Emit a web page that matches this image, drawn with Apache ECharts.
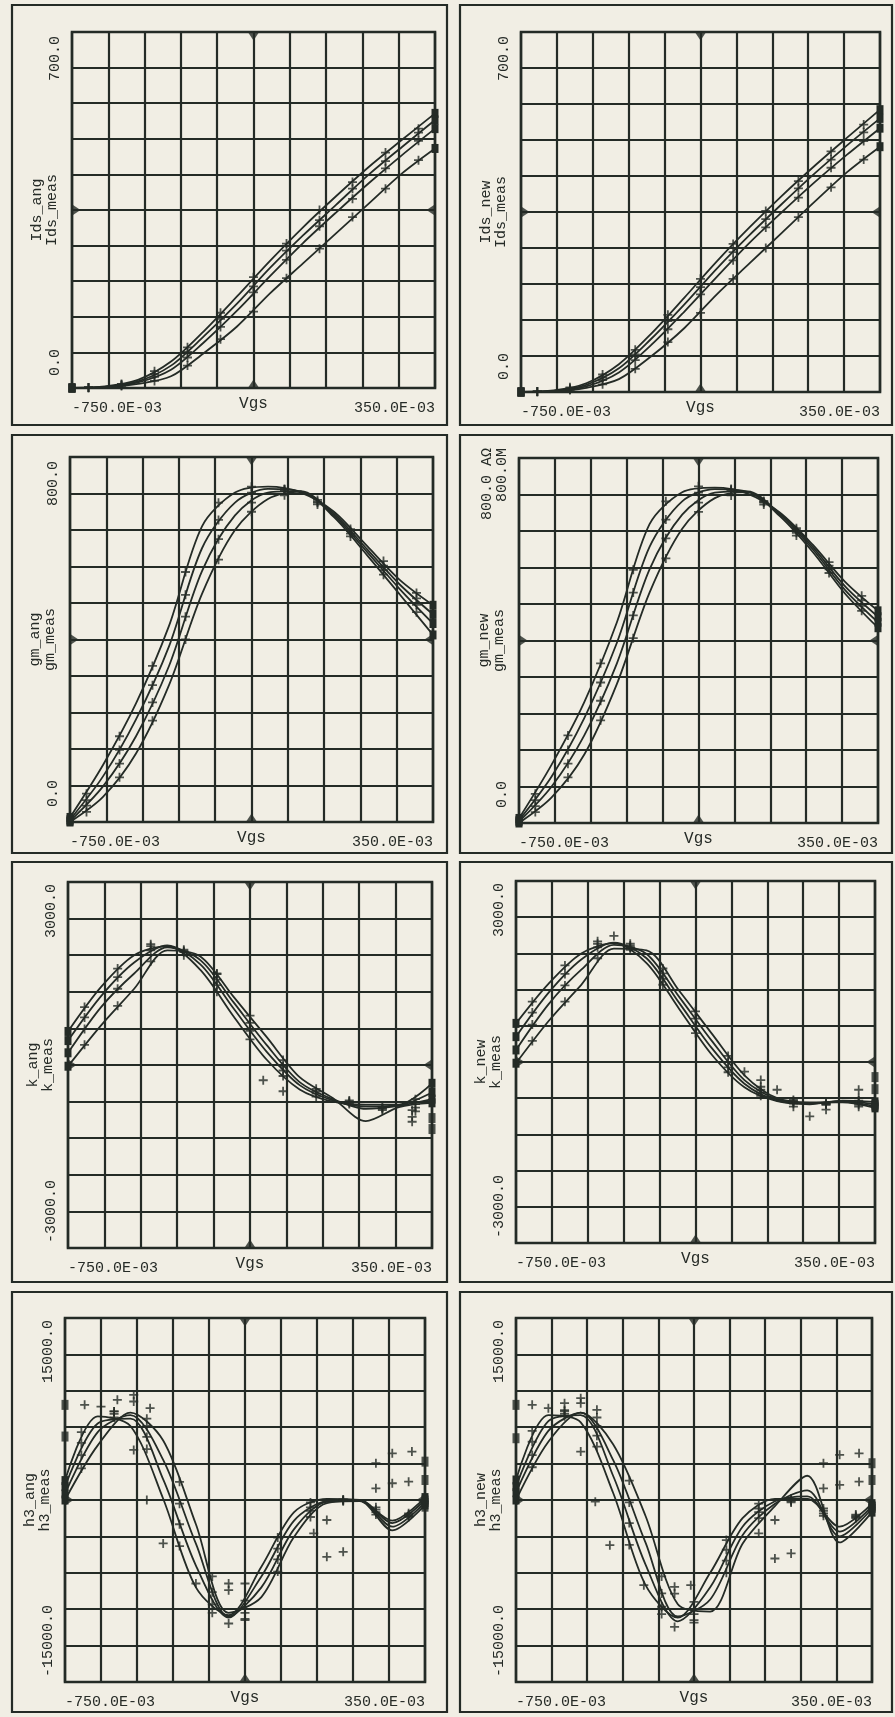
<!DOCTYPE html>
<html>
<head>
<meta charset="utf-8">
<title>Ids, gm, k, h3 vs Vgs</title>
<style>
  html, body { margin: 0; padding: 0; background: #f1eee4; }
  #chart { width: 895px; height: 1717px; }
</style>
</head>
<body>
<div id="chart"></div>
<script src="https://cdn.jsdelivr.net/npm/echarts@6/dist/echarts.min.js"></script>
<script>
// Vgs sweep (V)
var vgsMin = -0.75
var vgsMax = 0.35
var vgsModel = [-0.75, -0.65, -0.55, -0.45, -0.35, -0.25, -0.15, -0.05, 0.05, 0.15, 0.25, 0.35]
var vgsMeas = [-0.70, -0.60, -0.50, -0.40, -0.30, -0.20, -0.10, 0.00, 0.10, 0.20, 0.30]

// y ranges
var idsRange = [0, 700]
var gmRange = [0, 800]
var kRange = [-3000, 3000]
var h3Range = [-15000, 15000]

// Ids, four Vds curves
var idsAngModel = [
  [0, 3, 16, 52, 112, 180, 250, 316, 377, 435, 488, 540],
  [0, 2, 13, 44, 102, 166, 236, 300, 360, 420, 474, 527],
  [0, 2, 11, 36, 90, 152, 220, 285, 345, 403, 458, 510],
  [0, 1, 8, 23, 69, 121, 186, 245, 304, 363, 422, 471]
]
var idsNewModel = [
  [0, 3, 17, 54, 114, 183, 254, 320, 382, 440, 495, 549],
  [0, 2, 14, 46, 104, 170, 240, 305, 366, 425, 480, 532],
  [0, 2, 11, 38, 92, 156, 224, 290, 350, 408, 462, 513],
  [0, 1, 8, 25, 70, 124, 190, 250, 310, 370, 428, 477]
]
var idsAngMeas = [
  [1, 8, 33, 80, 148, 218, 284, 350, 405, 463, 510],
  [1, 7, 27, 71, 136, 200, 270, 330, 392, 446, 502],
  [1, 5, 22, 60, 120, 188, 252, 318, 372, 432, 486],
  [0, 4, 14, 44, 96, 150, 216, 274, 336, 392, 448]
]
var idsNewMeas = [
  [1, 9, 34, 82, 150, 220, 288, 352, 410, 468, 520],
  [1, 7, 28, 73, 138, 204, 272, 336, 396, 452, 505],
  [1, 5, 23, 62, 122, 190, 256, 320, 378, 436, 488],
  [0, 4, 15, 45, 97, 154, 220, 280, 340, 398, 452]
]

// gm
var gmAngModel = [
  [10, 125, 260, 430, 648, 722, 735, 722, 680, 605, 530, 475],
  [5, 100, 225, 385, 600, 700, 730, 724, 676, 598, 520, 455],
  [2, 78, 188, 342, 550, 672, 722, 725, 672, 592, 510, 435],
  [0, 55, 150, 300, 500, 640, 708, 724, 668, 585, 498, 410]
]
var gmNewModel = [
  [10, 128, 265, 440, 655, 725, 735, 722, 680, 610, 528, 465],
  [6, 102, 230, 395, 605, 705, 732, 726, 678, 605, 518, 452],
  [3, 80, 192, 350, 556, 676, 724, 727, 676, 600, 510, 440],
  [0, 56, 150, 305, 505, 645, 712, 725, 672, 594, 502, 428]
]
var gmAngMeas = [
  [62, 188, 342, 548, 700, 735, 728, 706, 642, 572, 502],
  [48, 158, 300, 498, 662, 722, 730, 702, 638, 562, 490],
  [36, 128, 262, 450, 620, 700, 728, 700, 632, 552, 476],
  [22, 98, 222, 400, 575, 680, 716, 696, 626, 542, 460]
]
var gmNewMeas = [
  [64, 192, 350, 555, 705, 738, 730, 706, 646, 572, 498],
  [50, 160, 308, 505, 665, 724, 732, 704, 642, 564, 488],
  [37, 130, 268, 455, 624, 702, 730, 702, 636, 556, 476],
  [24, 100, 225, 405, 580, 682, 718, 698, 630, 548, 465]
]

// k
var kAngModel = [
  [550, 1280, 1800, 1950, 1560, 800, 90, -400, -600, -650, -650, -300],
  [400, 1130, 1680, 1960, 1650, 930, 220, -330, -580, -680, -660, -450],
  [200, 950, 1500, 1930, 1720, 1030, 330, -280, -560, -720, -670, -560],
  [-20, 650, 1250, 1880, 1780, 1120, 460, -200, -540, -920, -690, -620]
]
var kNewModel = [
  [640, 1300, 1800, 1970, 1640, 880, 120, -420, -650, -700, -640, -660],
  [420, 1150, 1700, 1980, 1720, 980, 230, -360, -640, -690, -650, -700],
  [200, 960, 1530, 1940, 1790, 1080, 350, -300, -620, -680, -660, -730],
  [-20, 680, 1280, 1880, 1850, 1180, 470, -220, -600, -670, -670, -760]
]
var kAngMeas = [
  [950, 1580, 1980, 1800, 1200, 420, -180, -520, -640, -700, -560],
  [780, 1440, 1950, 1850, 1310, 560, -90, -470, -620, -720, -640],
  [590, 1250, 1880, 1890, 1400, 690, -20, -430, -600, -740, -700],
  [330, 970, 1700, 1870, 1490, 810, 80, -390, -580, -700, -760]
]
var kNewMeas = [
  [1000, 1600, 2000, 1860, 1280, 480, -170, -560, -690, -680, -640],
  [820, 1460, 1960, 1900, 1380, 600, -90, -510, -670, -690, -680],
  [620, 1270, 1900, 1930, 1470, 720, 0, -460, -650, -700, -710],
  [350, 1000, 1720, 1900, 1550, 840, 100, -410, -630, -710, -740]
]
var kAngExtra = [[0.29, -740], [0.29, -850], [0.29, -930], [-0.16, -250], [-0.10, -430], [-0.30, 1500]]
var kNewExtra = [[-0.05, -160], [0.0, -300], [0.05, -460], [0.30, -460], [0.15, -900], [0.20, -790],
  [0.10, -740], [-0.45, 2090], [-0.40, 1960], [0.30, -600]]
var kAngEnds = [[0.35, -870], [0.35, -1050]]
var kNewEnds = [[0.35, -250], [0.35, -450]]

// h3
var h3AngModel = [
  [1600, 6900, 6100, 100, -7200, -9500, -5500, -1000, 100, 0, -1700, 200],
  [1100, 6300, 6700, 1700, -5400, -9700, -6300, -1700, -100, 0, -1900, 0],
  [500, 5600, 7000, 3300, -3600, -9600, -7200, -2400, -150, -50, -2200, -200],
  [0, 4500, 7200, 4900, -2000, -9300, -8000, -3030, -250, -100, -2500, -400]
]
var h3NewModel = [
  [1650, 7000, 6400, 600, -7000, -9700, -6000, -1500, 100, 100, -2200, -300],
  [1100, 6500, 7000, 2000, -5300, -10000, -7200, -2200, -100, 300, -2600, -500],
  [600, 5700, 7200, 3300, -3500, -9600, -8200, -2900, -300, 800, -3000, -700],
  [0, 4800, 7200, 4600, -1300, -8600, -9200, -3600, -500, 2000, -3500, -1000]
]
var h3AngMeas = [
  [5600, 7300, 4200, -3800, -9300, -8300, -3100, -200, 50, -600, -1400],
  [4700, 7300, 5200, -2000, -8600, -9300, -4000, -600, 0, -800, -1300],
  [3700, 7100, 6100, -300, -7600, -9800, -4900, -900, -50, -1000, -1200],
  [2600, 6800, 6700, 1500, -6300, -9900, -5900, -1400, -100, -1200, -1100]
]
var h3NewMeas = [
  [5700, 7400, 4400, -3700, -9400, -8400, -3300, -300, 100, -700, -1500],
  [4800, 7300, 5300, -1900, -8800, -9400, -4100, -700, 0, -900, -1400],
  [3700, 7100, 6100, -200, -7700, -9900, -5000, -1000, -100, -1100, -1300],
  [2700, 6900, 6800, 1600, -6300, -10100, -6000, -1500, -200, -1300, -1200]
]
var h3AngExtra = [[-0.69, 7840], [-0.64, 7700], [-0.59, 8260], [-0.54, 8670], [-0.54, 8120], [-0.49, 7570],
  [-0.54, 4130], [-0.50, 0], [-0.45, -3580], [-0.35, -6880], [-0.25, -6880], [-0.25, -7430], [-0.20, -6880],
  [-0.25, -10180], [0.05, -1650], [0.01, -2750], [0.05, -4680], [0.10, -4270], [0.20, 3030], [0.25, 3850],
  [0.31, 3990], [0.20, 960], [0.25, 1380], [0.30, 1510]]
var h3NewExtra = [[-0.70, 7840], [-0.65, 7570], [-0.60, 7980], [-0.55, 8390], [-0.55, 7980], [-0.50, 7430],
  [-0.55, 3990], [-0.505, -140], [-0.46, -3720], [-0.355, -7020], [-0.26, -7160], [-0.26, -7710], [-0.21, -7020],
  [-0.26, -10460], [0.05, -1650], [0.0, -2750], [0.05, -4820], [0.10, -4400], [0.20, 3030], [0.25, 3720],
  [0.31, 3850], [0.20, 960], [0.25, 1240], [0.31, 1510]]
var h3AngEnds = [[-0.75, 7840], [-0.75, 5230], [0.35, 3160], [0.35, 1650], [0.35, -550]]
var h3NewEnds = [[-0.75, 7840], [-0.75, 5090], [0.35, 3030], [0.35, 1650], [0.35, -550]]

var panels = [
  { yName: ['Ids_ang', 'Ids_meas'], range: idsRange, model: idsAngModel, meas: idsAngMeas, extra: [], ends: [] },
  { yName: ['Ids_new', 'Ids_meas'], range: idsRange, model: idsNewModel, meas: idsNewMeas, extra: [], ends: [] },
  { yName: ['gm_ang', 'gm_meas'], range: gmRange, model: gmAngModel, meas: gmAngMeas, extra: [], ends: [] },
  { yName: ['gm_new', 'gm_meas'], range: gmRange, model: gmNewModel, meas: gmNewMeas, extra: [], ends: [],
    topLabel: '800.0 A\u03a9\n800.0M' },
  { yName: ['k_ang', 'k_meas'], range: kRange, model: kAngModel, meas: kAngMeas, extra: kAngExtra, ends: kAngEnds },
  { yName: ['k_new', 'k_meas'], range: kRange, model: kNewModel, meas: kNewMeas, extra: kNewExtra, ends: kNewEnds },
  { yName: ['h3_ang', 'h3_meas'], range: h3Range, model: h3AngModel, meas: h3AngMeas, extra: h3AngExtra, ends: h3AngEnds },
  { yName: ['h3_new', 'h3_meas'], range: h3Range, model: h3NewModel, meas: h3NewMeas, extra: h3NewExtra, ends: h3NewEnds }
]

// plot areas, frames, and how far the rotated end labels sit from the corners (px)
var plotRects = [
  [72, 32, 363, 356], [521, 32, 359, 360],
  [70, 457, 363, 365], [519, 458, 359, 365],
  [68, 882, 364, 366], [516, 881, 359, 362],
  [65, 1318, 360, 364], [516, 1318, 356, 364]
]
var labelPads = [[12, 4], [12, 4], [15, 4], [15, -10], [5, 2], [5, 2], [5, 2], [5, 2]]
var frameRows = [[5, 420], [435, 418], [862, 420], [1292, 420]]
var frameCols = [[12, 435], [460, 432]]

var INK = '#242b26'
var TXT = '#262b27'
var FONT = '"Liberation Mono", "DejaVu Sans Mono", monospace'
var PLUS = 'path://M4,0H6V4H10V6H6V10H4V6H0V4H4Z'

function pairs(xs, ys) {
  return ys.map(function (y, k) { return [xs[k], y] })
}

var grid = []
var xAxis = []
var yAxis = []
var series = []
var graphic = []

frameRows.forEach(function (r) {
  frameCols.forEach(function (c) {
    graphic.push({
      type: 'rect', silent: true,
      shape: { x: c[0], y: r[0], width: c[1], height: r[1] },
      style: { fill: 'none', stroke: INK, lineWidth: 2.2 }
    })
  })
})

panels.forEach(function (p, i) {
  var r = plotRects[i]
  var pad = labelPads[i]
  var lo = p.range[0]
  var hi = p.range[1]
  grid.push({
    left: r[0], top: r[1], width: r[2], height: r[3],
    show: true, borderColor: INK, borderWidth: 2.6, backgroundColor: 'transparent'
  })
  // data axis
  xAxis.push({
    gridIndex: i, type: 'value', min: vgsMin, max: vgsMax,
    name: 'Vgs', nameLocation: 'middle', nameGap: 8, nameMoveOverlap: false,
    nameTextStyle: { color: TXT, fontFamily: FONT, fontSize: 16, verticalAlign: 'top' },
    axisLine: { show: false }, axisTick: { show: false }, splitLine: { show: false },
    axisLabel: {
      customValues: [vgsMin, vgsMax], margin: 13,
      alignMinLabel: 'left', alignMaxLabel: 'right',
      color: TXT, fontFamily: FONT, fontSize: 15,
      formatter: function (v) { return (v * 1000).toFixed(1) + 'E-03' }
    }
  })
  // ten divisions for the grid
  xAxis.push({
    gridIndex: i, type: 'value', min: 0, max: 10, interval: 1, position: 'top',
    axisLine: { show: false }, axisTick: { show: false }, axisLabel: { show: false },
    splitLine: { show: true, lineStyle: { color: INK, width: 2.2 } }
  })
  yAxis.push({
    gridIndex: i, type: 'value', min: lo, max: hi, interval: (hi - lo) / 10,
    name: p.yName.join('\n'), nameLocation: 'middle', nameRotate: 90, nameGap: 12,
    nameMoveOverlap: false,
    nameTextStyle: { color: TXT, fontFamily: FONT, fontSize: 15, lineHeight: 15 },
    axisLine: { show: false }, axisTick: { show: false },
    splitLine: { show: true, lineStyle: { color: INK, width: 2.2 } },
    axisLabel: {
      customValues: [lo, hi], rotate: 90, margin: 9,
      alignMinLabel: 'left', alignMaxLabel: 'right',
      padding: [0, pad[1], 0, pad[0]],
      color: TXT, fontFamily: FONT, fontSize: 15, lineHeight: 15,
      formatter: function (v) {
        if (v === hi && p.topLabel) return p.topLabel
        return v.toFixed(1)
      }
    }
  })

  var xi = 2 * i
  p.model.forEach(function (ys) {
    series.push({
      type: 'line', xAxisIndex: xi, yAxisIndex: i,
      data: pairs(vgsModel, ys),
      smooth: 0.3,
      showSymbol: true,
      symbol: function (v, params) {
        return (params.dataIndex === 0 || params.dataIndex === ys.length - 1) ? 'rect' : 'none'
      },
      symbolSize: [7, 9],
      lineStyle: { color: INK, width: 1.8 },
      itemStyle: { color: INK },
      silent: true, z: 3
    })
  })

  var pts = []
  p.meas.forEach(function (ys) { pts = pts.concat(pairs(vgsMeas, ys)) })
  pts = pts.concat(p.extra)
  series.push({
    type: 'scatter', xAxisIndex: xi, yAxisIndex: i, data: pts,
    symbol: PLUS, symbolSize: 9, itemStyle: { color: INK }, silent: true, z: 4
  })
  if (p.ends.length) {
    series.push({
      type: 'scatter', xAxisIndex: xi, yAxisIndex: i, data: p.ends,
      symbol: 'rect', symbolSize: [7, 10], itemStyle: { color: INK }, silent: true, z: 4
    })
  }
  // centre marks on the frame, pointing inwards
  var xMid = (vgsMin + vgsMax) / 2
  var yMid = (lo + hi) / 2
  series.push({
    type: 'scatter', xAxisIndex: xi, yAxisIndex: i, clip: false,
    symbol: 'triangle', symbolSize: [12, 9], itemStyle: { color: INK }, silent: true, z: 5,
    data: [
      { value: [xMid, hi], symbolRotate: 180, symbolOffset: [0, 4] },
      { value: [xMid, lo], symbolRotate: 0, symbolOffset: [0, -4] },
      { value: [vgsMin, yMid], symbolRotate: -90, symbolOffset: [4, 0] },
      { value: [vgsMax, yMid], symbolRotate: 90, symbolOffset: [-4, 0] }
    ]
  })
})

var chart = echarts.init(document.getElementById('chart'))
chart.setOption({
  backgroundColor: '#f1eee4',
  animation: false,
  graphic: graphic,
  grid: grid,
  xAxis: xAxis,
  yAxis: yAxis,
  series: series
})
</script>
</body>
</html>
